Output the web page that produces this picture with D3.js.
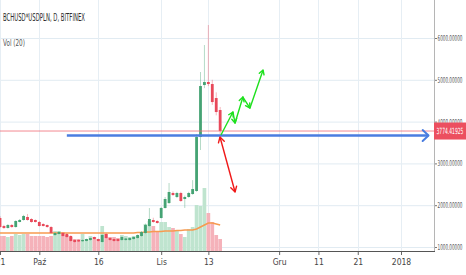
<!DOCTYPE html>
<html><head><meta charset="utf-8">
<script src="https://cdn.jsdelivr.net/npm/d3@7"></script>
<style>
html,body{margin:0;padding:0;background:#fff;overflow:hidden}
text{font-family:"Liberation Sans Narrow","DejaVu Sans Condensed","Liberation Sans",sans-serif}
</style>
</head><body><svg id="c" width="466" height="275"></svg>
<script>
// ---------- DATA ----------
const title = "BCHUSD*USDPLN, D, BITFINEX";
const volTitle = "Vol (20)";
const firstDay = "2017-09-21";
const opens  = [1694,1502,1455,1526,1478,1598,1646,1718,1670,1646,1598,1550,1526,1478,1287,1311,1335,1311,1263,1167,1167,1144,1144,1167,1239,1191,1120,1311,1215,1191,1191,1167,1167,1167,1191,1215,1263,1335,1502,1646,1622,1694,1933,2052,2292,2196,2292,2148,2196,2268,2340,3631,4875,4947,4899,4564,4277];
const highs  = [1740,1530,1550,1550,1640,1670,1770,1790,1690,1660,1620,1570,1540,1500,1350,1380,1350,1330,1280,1180,1180,1180,1200,1225,1250,1200,1300,1330,1230,1200,1200,1250,1215,1225,1250,1300,1380,1560,1933,1700,1640,1960,2196,2531,2330,2320,2320,2230,2320,2600,3700,5186,5832,6310,5000,4700,4350];
const lows   = [1450,1430,1440,1460,1465,1590,1630,1630,1580,1585,1490,1490,1460,1320,1270,1300,1250,1225,1130,1105,1120,1130,1135,1155,1180,1130,1110,1200,1155,1130,1130,1155,1155,1155,1180,1205,1250,1320,1490,1580,1560,1680,1920,2030,2220,2170,2080,1933,2180,2250,2320,3320,4800,4850,4400,4150,3700];
const closes = [1478,1455,1526,1478,1622,1646,1742,1646,1598,1598,1502,1502,1478,1335,1335,1359,1263,1239,1144,1120,1132,1167,1191,1215,1191,1144,1287,1215,1167,1144,1144,1239,1203,1215,1239,1287,1359,1526,1670,1598,1574,1933,2148,2316,2244,2292,2100,2196,2292,2387,3631,4851,4947,4899,4468,4229,3774.41925];
const volumes = [15,15,14,15,17,16,17,17,15,15,15,15,14,15,20,20,19,16,14,12,12,17,12,15,14,12,25,17,14,14,13,16,15,14,15,15,19,27,30,25,20,29,29,24,23,20,17,14,22,24,46,45,63,38,29,16,12];
const volMA = [18,18,18,18,18,18,18,18,18,18,18,18,18,18,18,18,18,18,18,18,18,18,18,18,18,18,18,18,18,18,18,18,18,18,18,18.5,18.5,19,19,19.5,19.5,19.5,20,20,20,20.5,20.5,21,21,21,22,24,26,28,28,27,26];
const priceTicks = [1000,2000,3000,4000,5000,6000];
const xTickDates = ["2017-09-21","2017-10-01","2017-10-16","2017-11-01","2017-11-13","2017-12-01","2017-12-11","2017-12-21","2018-01-01"];
const xTickLabels = ["21","Paź","16","Lis","13","Gru","11","21","2018"];
const lastPrice = 3774.41925;
// drawn annotations (date, price)
const blueLine = [["2017-10-08 00:00",3667],["2018-01-08 00:00",3667]];
const redArrow = [["2017-11-15 23:00",3631],["2017-11-19 19:00",2316]];
const greenZigzag = [["2017-11-16 05:00",3679],["2017-11-19 06:00",4229],["2017-11-19 19:00",3966],["2017-11-21 19:00",4588],["2017-11-23 14:00",4325],["2017-11-26 22:00",5234]];

// ---------- CHART ----------
const W = 466, H = 275, plotR = 434, plotB = 251;
const svg = d3.select("#c");
const pd = d3.timeParse("%Y-%m-%d");
const pdt = d3.timeParse("%Y-%m-%d %H:%M");
const start = pd(firstDay);
const dates = d3.timeDay.range(start, d3.timeDay.offset(start, opens.length));

const x = d3.scaleTime().domain([pd("2017-09-21"), pd("2018-01-01")]).range([0, 401]);
const y = d3.scaleLinear().domain([1000, 6000]).range([247, 38]);
const yv = d3.scaleLinear().domain([0, 70]).range([plotB, plotB - 70]);

const green = "#45a374", red = "#e8495a";
const volGreen = "#bfe4cf", volRed = "#f5b2ba";

// text squeezed to a given width via transform (keeps real text)
function fitText(sel, str, x0, yb, width, size, fill){
  const t = sel.append("text").attr("x",0).attr("y",0).attr("font-size",size).attr("fill",fill).text(str);
  const w = t.node().getComputedTextLength();
  const s = Math.min(1, width / w);
  t.attr("transform",`translate(${x0},${yb}) scale(${s},1)`);
  return t;
}

svg.append("defs").append("clipPath").attr("id","clip")
  .append("rect").attr("x",0).attr("y",0).attr("width",plotR).attr("height",plotB);

const plot = svg.append("g").attr("clip-path","url(#clip)");

// grid
plot.selectAll("line.hg").data(priceTicks).join("line")
  .attr("x1",0).attr("x2",plotR).attr("y1",d=>y(d)+0.5).attr("y2",d=>y(d)+0.5)
  .attr("stroke","#e1ebf2").attr("stroke-width",1);
plot.selectAll("line.vg").data(xTickDates).join("line")
  .attr("x1",d=>Math.round(x(pd(d)))+0.5).attr("x2",d=>Math.round(x(pd(d)))+0.5)
  .attr("y1",0).attr("y2",plotB)
  .attr("stroke","#e6eef4").attr("stroke-width",1);

// volume
plot.selectAll("rect.vol").data(volumes).join("rect")
  .attr("x",(d,i)=>x(dates[i])-1.85).attr("width",3.7)
  .attr("y",d=>yv(d)).attr("height",d=>plotB - yv(d))
  .attr("fill",(d,i)=>closes[i]>=opens[i]?volGreen:volRed);

// volume MA
plot.append("path").datum(volMA)
  .attr("d", d3.line().x((d,i)=>x(dates[i])).y(d=>yv(d)))
  .attr("fill","none").attr("stroke","#f79a50").attr("stroke-width",1.5);

// candles
const cg = plot.append("g");
opens.forEach((o,i)=>{
  const c = closes[i], up = c >= o, cx = x(dates[i]);
  cg.append("line").attr("x1",cx).attr("x2",cx).attr("y1",y(highs[i])).attr("y2",y(lows[i]))
    .attr("stroke", up?green:red).attr("stroke-opacity",0.4).attr("stroke-width",1);
  const top = y(Math.max(o,c)), bot = y(Math.min(o,c));
  cg.append("rect").attr("x",cx-1.4).attr("width",2.8)
    .attr("y",top).attr("height",Math.max(1.2,bot-top))
    .attr("fill", up?green:red);
});

// last price line
plot.append("line").attr("x1",0).attr("x2",plotR).attr("y1",y(lastPrice)).attr("y2",y(lastPrice))
  .attr("stroke","#ef6b76").attr("stroke-width",1).attr("stroke-opacity",0.8);

// annotations
function pt(p){ return [x(pdt(p[0])), y(p[1])]; }
function head(g, from, to, color, len, ang, w){
  const a = Math.atan2(to[1]-from[1], to[0]-from[0]);
  const p1 = [to[0]-len*Math.cos(a-ang), to[1]-len*Math.sin(a-ang)];
  const p2 = [to[0]-len*Math.cos(a+ang), to[1]-len*Math.sin(a+ang)];
  g.append("path").attr("d",`M${p1}L${to}L${p2}`).attr("fill","none")
    .attr("stroke",color).attr("stroke-width",w).attr("stroke-linecap","round").attr("stroke-linejoin","round");
}
const ag = svg.append("g");
{
  const a = pt(blueLine[0]), b = pt(blueLine[1]);
  ag.append("line").attr("x1",a[0]).attr("y1",a[1]).attr("x2",b[0]).attr("y2",b[1])
    .attr("stroke","#4a7de0").attr("stroke-width",2.5);
  head(ag, a, b, "#4a7de0", 8, Math.PI/4.2, 2);
}
{
  const a = pt(redArrow[0]), b = pt(redArrow[1]);
  ag.append("line").attr("x1",a[0]).attr("y1",a[1]).attr("x2",b[0]).attr("y2",b[1])
    .attr("stroke","#f01818").attr("stroke-width",1.4);
  head(ag, a, b, "#f01818", 6, Math.PI/6, 1.4);
  head(ag, b, a, "#f01818", 6, Math.PI/6, 1.4);
}
{
  const ps = greenZigzag.map(pt);
  ag.append("path").attr("d", d3.line()(ps)).attr("fill","none")
    .attr("stroke","#1ee01e").attr("stroke-width",1.4).attr("stroke-linejoin","round");
  for (let i=1;i<ps.length;i++) head(ag, ps[i-1], ps[i], "#1ee01e", 5, Math.PI/6, 1.4);
}

// axes lines
svg.append("line").attr("x1",plotR+0.5).attr("x2",plotR+0.5).attr("y1",0).attr("y2",plotB+1)
  .attr("stroke","#b5b5b5").attr("stroke-width",1);
svg.append("line").attr("x1",0).attr("x2",plotR+1).attr("y1",plotB+0.5).attr("y2",plotB+0.5)
  .attr("stroke","#555").attr("stroke-width",1.2);

// bottom axis
const xa = svg.append("g").attr("transform",`translate(0,${plotB+1})`)
  .call(d3.axisBottom(x).tickValues(xTickDates.map(pd)).tickFormat((d,i)=>xTickLabels[i]).tickSize(3).tickPadding(4));
xa.select(".domain").remove();
xa.selectAll("line").attr("stroke","#666");
xa.selectAll("text").attr("fill","#444").attr("font-size",8.5);

// right axis (ticks via axis, labels squeezed to fit)
const ya = svg.append("g").attr("transform",`translate(${plotR+1},0)`)
  .call(d3.axisRight(y).tickValues(priceTicks).tickFormat("").tickSize(2));
ya.select(".domain").remove();
ya.selectAll("line").attr("stroke","#777");
const yl = svg.append("g");
priceTicks.forEach(p => fitText(yl, p.toFixed(5), 437.5, y(p)+3, 25, 8, "#555"));

// last price label
svg.append("rect").attr("x",plotR).attr("y",y(lastPrice)-8.5).attr("width",W-plotR).attr("height",17)
  .attr("fill","#ec4f5f");
fitText(svg, lastPrice.toFixed(5), plotR+2.5, y(lastPrice)+3, 27, 8.5, "#fff");

// titles
fitText(svg, title, 3, 21, 82, 10, "#2a2a2a");
fitText(svg, volTitle, 3, 46, 22, 9.5, "#555");
</script>
</body></html>
